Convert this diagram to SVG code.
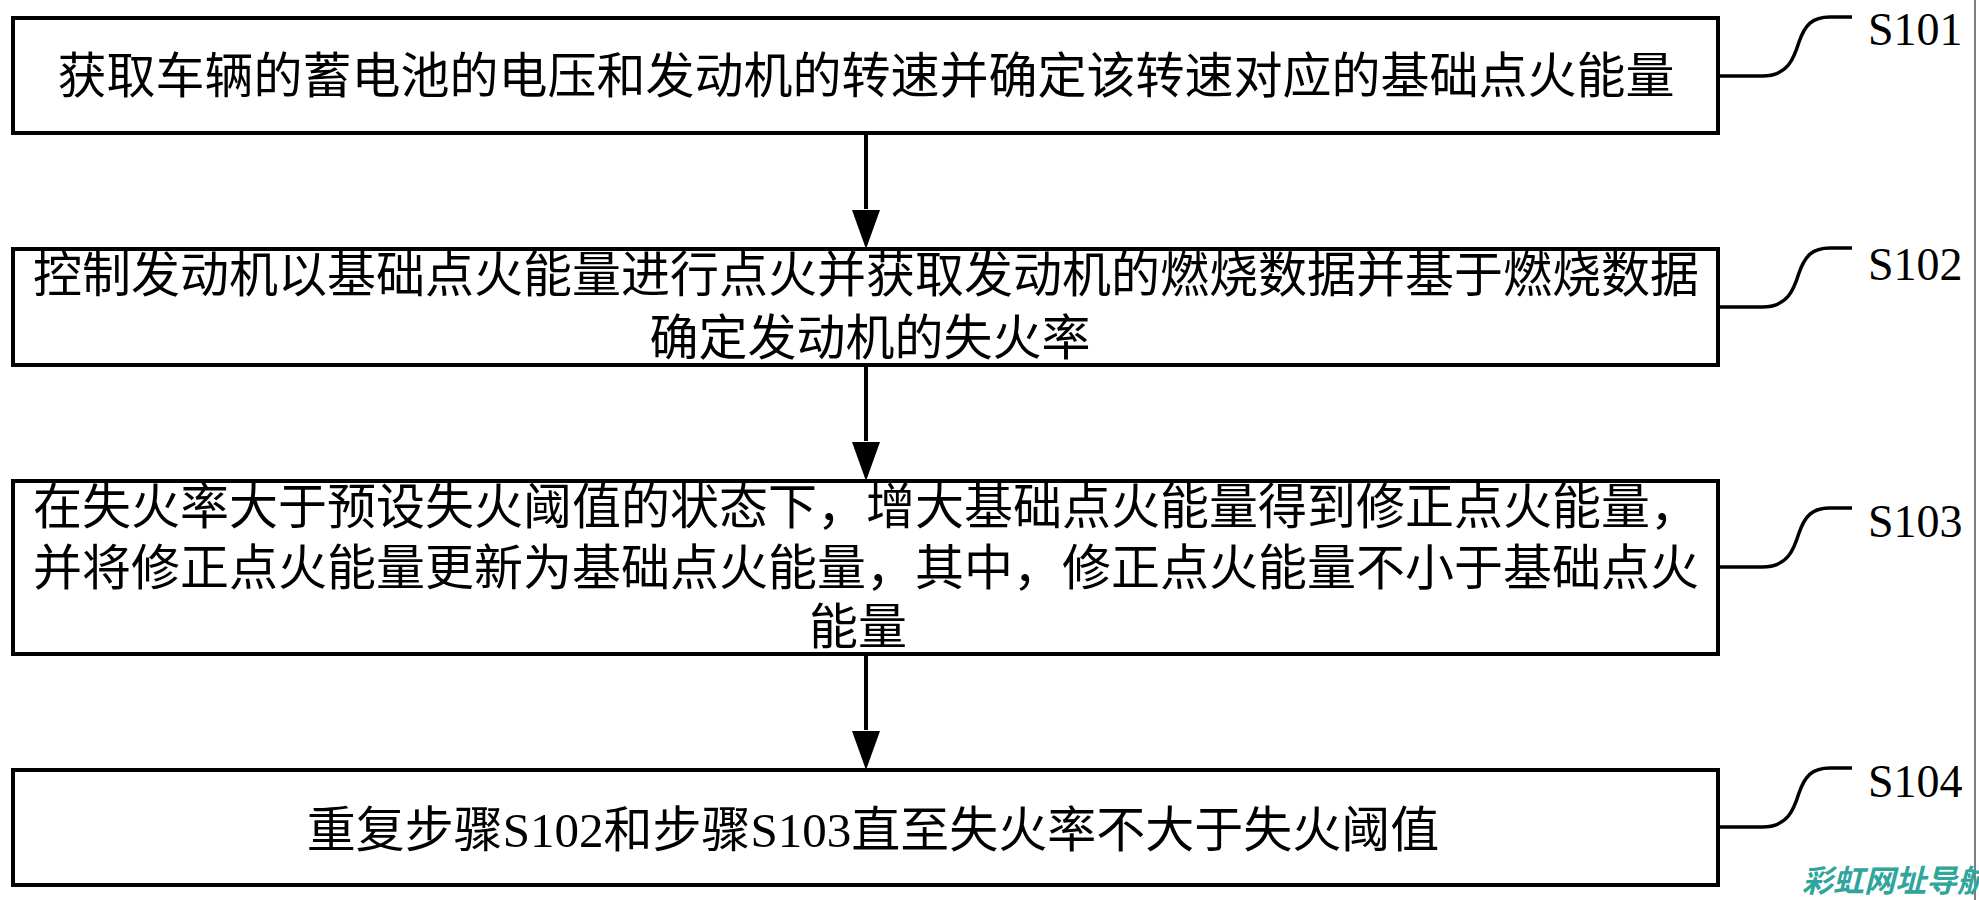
<svg xmlns="http://www.w3.org/2000/svg" width="1979" height="900" viewBox="0 0 1979 900">
<style>
.box{fill:#fff;stroke:#000;stroke-width:4}
.t{font-family:"Noto Sans CJK SC","Noto Sans CJK JP",sans-serif;font-size:49px;fill:#000;text-anchor:middle}
.lat{font-family:"Liberation Serif",serif}
.lbl{font-family:"Liberation Serif",serif;font-size:46px;fill:#000}
.lead{fill:none;stroke:#000;stroke-width:3.5}
.conn{stroke:#000;stroke-width:4}
</style>
<defs>
<marker id="ah" markerUnits="userSpaceOnUse" markerWidth="28" markerHeight="40" refX="14" refY="40" orient="auto-start-reverse" viewBox="0 0 28 40">
<path d="M0,0 L28,0 L14,40 Z" fill="#000"/>
</marker>
</defs>
<rect width="1979" height="900" fill="#fff"/>
<line x1="1975" y1="0" x2="1975" y2="900" stroke="#555" stroke-width="1.5"/>
<g id="connectors">
<line class="conn" x1="866" y1="133" x2="866" y2="209"/>
<path d="M852,210 L880,210 L866,249 Z"/>
<line class="conn" x1="866" y1="365" x2="866" y2="441"/>
<path d="M852,442 L880,442 L866,481 Z"/>
<line class="conn" x1="866" y1="654" x2="866" y2="730"/>
<path d="M852,731 L880,731 L866,770 Z"/>
</g>
<g id="S101">
<rect class="box" x="13" y="18" width="1705" height="115"/>
<text class="t" x="866" y="93">获取车辆的蓄电池的电压和发动机的转速并确定该转速对应的基础点火能量</text>
<path class="lead" d="M1718,76 H1762 C1788,76 1794,58 1799,42 C1805,25 1812,17 1830,17 H1852"/>
<text class="lbl" x="1868" y="45">S101</text>
</g>
<g id="S102">
<rect class="box" x="13" y="249" width="1705" height="116"/>
<text class="t" x="866" y="292">控制发动机以基础点火能量进行点火并获取发动机的燃烧数据并基于燃烧数据</text>
<text class="t" x="870" y="355">确定发动机的失火率</text>
<path class="lead" d="M1718,307 H1762 C1788,307 1794,289 1799,273 C1805,256 1812,248 1830,248 H1852"/>
<text class="lbl" x="1868" y="280">S102</text>
</g>
<g id="S103">
<rect class="box" x="13" y="481" width="1705" height="173"/>
<text class="t" x="866" y="524">在失火率大于预设失火阈值的状态下，增大基础点火能量得到修正点火能量，</text>
<text class="t" x="866" y="585">并将修正点火能量更新为基础点火能量，其中，修正点火能量不小于基础点火</text>
<text class="t" x="858" y="644">能量</text>
<path class="lead" d="M1718,567 H1762 C1788,567 1794,549 1799,533 C1805,516 1812,508 1830,508 H1852"/>
<text class="lbl" x="1868" y="537">S103</text>
</g>
<g id="S104">
<rect class="box" x="13" y="770" width="1705" height="115"/>
<text class="t" x="873" y="847">重复步骤<tspan class="lat">S102</tspan>和步骤<tspan class="lat">S103</tspan>直至失火率不大于失火阈值</text>
<path class="lead" d="M1718,827 H1762 C1788,827 1794,809 1799,793 C1805,776 1812,768 1830,768 H1852"/>
<text class="lbl" x="1868" y="797">S104</text>
</g>
<text x="1802" y="892" font-family="Noto Sans CJK SC, sans-serif" font-size="31" font-weight="bold" font-style="italic" fill="#2fa59c">彩虹网址导航</text>
</svg>
